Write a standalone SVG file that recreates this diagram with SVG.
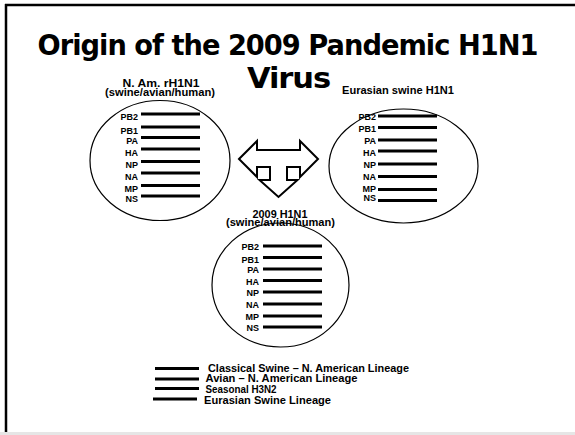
<svg xmlns="http://www.w3.org/2000/svg" width="575" height="435" viewBox="0 0 575 435">
<style>
.title{font-family:"DejaVu Sans",Verdana,sans-serif;font-weight:bold;font-size:27.5px;letter-spacing:-1px;fill:#000;text-anchor:middle}
.hdr{font-family:"Liberation Sans",Arial,sans-serif;font-weight:bold;font-size:10px;fill:#000;text-anchor:middle}
.gene{font-family:"Liberation Sans",Arial,sans-serif;font-weight:bold;font-size:9px;fill:#000;text-anchor:end}
.leg{font-family:"Liberation Sans",Arial,sans-serif;font-weight:bold;font-size:10.8px;fill:#000}
.seg{stroke:#000;stroke-width:3;fill:none}
.shell{fill:none;stroke:#000;stroke-width:1.2}
</style>
<rect x="0" y="0" width="575" height="435" fill="#fff"/>
<g id="frame">
<line x1="5" y1="5" x2="575" y2="5" stroke="#000" stroke-width="2.5"/>
<line x1="6" y1="4" x2="6" y2="432" stroke="#000" stroke-width="2.5"/>
<line x1="0" y1="433.5" x2="575" y2="433.5" stroke="#e6e6e6" stroke-width="3"/>
</g>
<g id="title">
<text class="title" x="287.5" y="55" textLength="500" lengthAdjust="spacingAndGlyphs">Origin of the 2009 Pandemic H1N1</text>
<text class="title" x="288.5" y="88" textLength="83" lengthAdjust="spacingAndGlyphs">Virus</text>
</g>
<g id="na-rh1n1">
<text class="hdr" x="161" y="86.5" textLength="77" lengthAdjust="spacingAndGlyphs">N. Am. rH1N1</text>
<text class="hdr" x="160" y="96" textLength="110" lengthAdjust="spacingAndGlyphs">(swine/avian/human)</text>
<ellipse class="shell" cx="160" cy="160.5" rx="70" ry="60"/>
<g class="seg">
<line x1="141" y1="114" x2="200" y2="114"/>
<line x1="141" y1="127" x2="200" y2="127"/>
<line x1="141" y1="137.5" x2="200" y2="137.5"/>
<line x1="141" y1="149" x2="200" y2="149"/>
<line x1="141" y1="161.5" x2="200" y2="161.5"/>
<line x1="141" y1="173" x2="200" y2="173"/>
<line x1="141" y1="185.5" x2="200" y2="185.5"/>
<line x1="141" y1="196" x2="200" y2="196"/>
</g>
<text class="gene" x="138" y="120">PB2</text>
<text class="gene" x="138" y="134">PB1</text>
<text class="gene" x="138" y="144">PA</text>
<text class="gene" x="138" y="156">HA</text>
<text class="gene" x="138" y="168">NP</text>
<text class="gene" x="138" y="180">NA</text>
<text class="gene" x="138" y="192">MP</text>
<text class="gene" x="138" y="202">NS</text>
</g>
<g id="eurasian">
<text class="hdr" x="398" y="94" textLength="112" lengthAdjust="spacingAndGlyphs">Eurasian swine H1N1</text>
<ellipse class="shell" cx="403.5" cy="166" rx="74.5" ry="57"/>
<g class="seg">
<line x1="378" y1="116" x2="437" y2="116"/>
<line x1="378" y1="127.5" x2="437" y2="127.5"/>
<line x1="378" y1="140" x2="437" y2="140"/>
<line x1="378" y1="151" x2="437" y2="151"/>
<line x1="378" y1="164" x2="437" y2="164"/>
<line x1="378" y1="176.5" x2="437" y2="176.5"/>
<line x1="378" y1="189.5" x2="437" y2="189.5"/>
<line x1="378" y1="200.5" x2="437" y2="200.5"/>
</g>
<text class="gene" x="376" y="119.5">PB2</text>
<text class="gene" x="376" y="132">PB1</text>
<text class="gene" x="376" y="144">PA</text>
<text class="gene" x="376" y="155.5">HA</text>
<text class="gene" x="376" y="168">NP</text>
<text class="gene" x="376" y="180">NA</text>
<text class="gene" x="376" y="192">MP</text>
<text class="gene" x="376" y="200.5">NS</text>
</g>
<g id="h1n1-2009">
<ellipse class="shell" cx="280.5" cy="285" rx="68.5" ry="62"/>
<text class="hdr" x="280" y="218" textLength="55" lengthAdjust="spacingAndGlyphs">2009 H1N1</text>
<text class="hdr" x="280.5" y="225.5" textLength="109" lengthAdjust="spacingAndGlyphs">(swine/avian/human)</text>
<g class="seg">
<line x1="263" y1="246" x2="322" y2="246"/>
<line x1="263" y1="257.5" x2="322" y2="257.5"/>
<line x1="263" y1="269" x2="322" y2="269"/>
<line x1="263" y1="280.5" x2="322" y2="280.5"/>
<line x1="263" y1="292" x2="322" y2="292"/>
<line x1="263" y1="304" x2="322" y2="304"/>
<line x1="263" y1="316" x2="322" y2="316"/>
<line x1="263" y1="327" x2="322" y2="327"/>
</g>
<text class="gene" x="259" y="249.5">PB2</text>
<text class="gene" x="259" y="263">PB1</text>
<text class="gene" x="259" y="273">PA</text>
<text class="gene" x="259" y="284.5">HA</text>
<text class="gene" x="259" y="296">NP</text>
<text class="gene" x="259" y="308">NA</text>
<text class="gene" x="259" y="320">MP</text>
<text class="gene" x="259" y="331">NS</text>
</g>
<g id="connectors">
<path d="M239,159 L257,141 L257,150 L300,150 L300,141 L318,159 L300,177 L300,167 L287,167 L287,180 L297.5,180 L278.5,197 L259.5,180 L270,180 L270,167 L257,167 L257,177 Z" fill="#fff" stroke="#000" stroke-width="2" stroke-linejoin="miter"/>
</g>
<g id="legend">
<g class="seg">
<line x1="155" y1="368.5" x2="199" y2="368.5"/>
<line x1="155" y1="379" x2="199" y2="379"/>
<line x1="155" y1="388.5" x2="199" y2="388.5"/>
<line x1="153" y1="399" x2="197" y2="399"/>
</g>
<text class="leg" x="208" y="371.5" textLength="201" lengthAdjust="spacingAndGlyphs">Classical Swine – N. American Lineage</text>
<text class="leg" x="205.5" y="382" textLength="152" lengthAdjust="spacingAndGlyphs">Avian – N. American Lineage</text>
<text class="leg" x="205.5" y="392.5" textLength="71" lengthAdjust="spacingAndGlyphs">Seasonal H3N2</text>
<text class="leg" x="204" y="403.5" textLength="127" lengthAdjust="spacingAndGlyphs">Eurasian Swine Lineage</text>
</g>
</svg>
